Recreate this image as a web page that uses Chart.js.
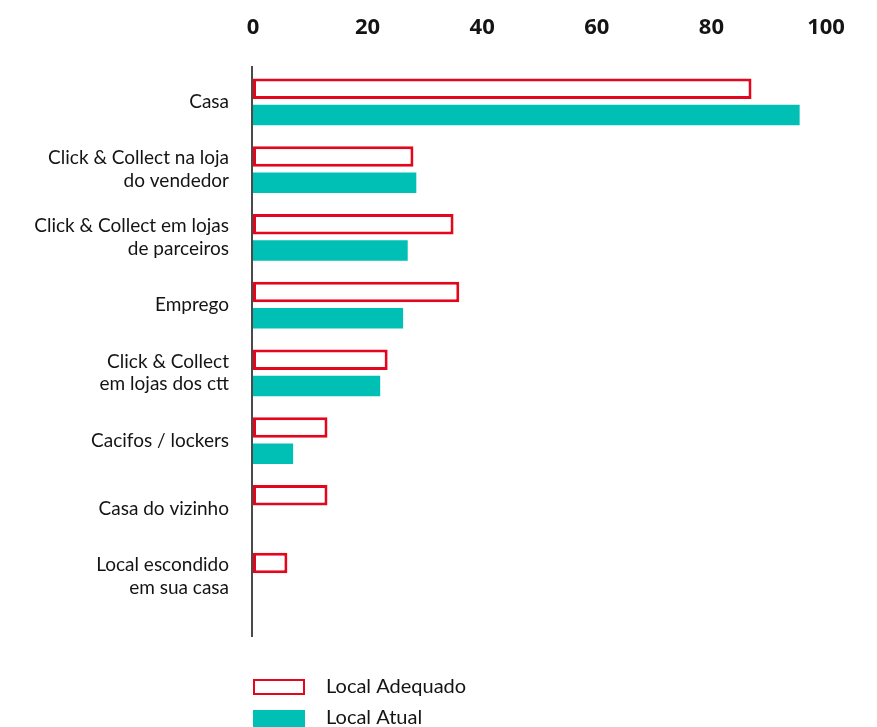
<!DOCTYPE html>
<html>
<head>
<meta charset="utf-8">
<title>Local de entrega</title>
<script src="https://cdn.jsdelivr.net/npm/chart.js@4/dist/chart.umd.min.js"></script>
<style>
  html, body { margin: 0; padding: 0; background: #ffffff; }
  #wrap { width: 877px; height: 727px; }
</style>
</head>
<body>
<div id="wrap"><canvas id="chart" width="877" height="727"></canvas></div>
<script>
// Delivery locations (multi-line labels)
const categories = [
  ['Casa'],
  ['Click & Collect na loja', 'do vendedor'],
  ['Click & Collect em lojas', 'de parceiros'],
  ['Emprego'],
  ['Click & Collect', 'em lojas dos ctt'],
  ['Cacifos / lockers'],
  ['Casa do vizinho'],
  ['Local escondido', 'em sua casa']
];
// Percentages per location
const localAdequado = [87, 28, 35, 36, 23.5, 13, 13, 6];
const localAtual = [95.4, 28.5, 27, 26.2, 22.2, 7, 0, 0];
const xTicks = [0, 20, 40, 60, 80, 100];

const RED = '#e3061d';
const TEAL = '#00bfb5';
const TEXT = '#141414';
const LEFT = 253;
const TOP = 68;

// Vertical axis line, drawn a bit past the category band
const axisLine = {
  id: 'axisLine',
  beforeDatasetsDraw(chart) {
    const ctx = chart.ctx;
    const a = chart.chartArea;
    ctx.save();
    ctx.strokeStyle = '#4a4a4a';
    ctx.lineWidth = 2;
    ctx.beginPath();
    ctx.moveTo(a.left - 1, a.top - 2);
    ctx.lineTo(a.left - 1, a.bottom + 27);
    ctx.stroke();
    ctx.restore();
  }
};

// Stacked legend below the plot, one entry per row
const stackedLegend = {
  id: 'stackedLegend',
  afterDraw(chart) {
    const ctx = chart.ctx;
    const a = chart.chartArea;
    ctx.save();
    ctx.font = '20px Lato, "Open Sans", sans-serif';
    ctx.textBaseline = 'middle';
    ctx.textAlign = 'left';
    chart.data.datasets.forEach((ds, i) => {
      const cy = 687 + i * 31;
      const x = a.left;
      if (ds.borderWidth) {
        ctx.fillStyle = '#ffffff';
        ctx.fillRect(x, cy - 8, 52, 16);
        ctx.strokeStyle = ds.borderColor;
        ctx.lineWidth = 2;
        ctx.strokeRect(x + 1, cy - 7, 50, 14);
      } else {
        ctx.fillStyle = ds.backgroundColor;
        ctx.fillRect(x, cy - 8, 52, 18);
      }
      ctx.fillStyle = TEXT;
      ctx.fillText(ds.label, x + 73, cy);
    });
    ctx.restore();
  }
};

new Chart(document.getElementById('chart'), {
  type: 'bar',
  data: {
    labels: categories,
    datasets: [
      {
        label: 'Local Adequado',
        data: localAdequado,
        backgroundColor: '#ffffff',
        borderColor: RED,
        borderWidth: 3,
        borderSkipped: false
      },
      {
        label: 'Local Atual',
        data: localAtual,
        backgroundColor: TEAL,
        borderWidth: 0
      }
    ]
  },
  options: {
    indexAxis: 'y',
    responsive: false,
    animation: false,
    events: [],
    categoryPercentage: 0.775,
    barPercentage: 0.79,
    layout: { padding: { top: 0, right: 51, bottom: 117, left: 0 } },
    plugins: {
      legend: { display: false },
      tooltip: { enabled: false }
    },
    scales: {
      x: {
        position: 'top',
        min: 0,
        max: 100,
        afterBuildTicks(scale) {
          scale.ticks = xTicks.map(v => ({ value: v }));
        },
        afterFit(scale) { scale.height = TOP; },
        grid: { display: false, drawTicks: false },
        border: { display: false },
        ticks: {
          padding: 27,
          color: TEXT,
          font: { family: '"Open Sans", sans-serif', size: 22, weight: 'bold' }
        }
      },
      y: {
        afterFit(scale) { scale.width = LEFT; },
        grid: { display: false, drawTicks: false },
        border: { display: false },
        ticks: {
          padding: 24,
          color: TEXT,
          font: { family: 'Lato, "Open Sans", sans-serif', size: 19, lineHeight: 1.2 }
        }
      }
    }
  },
  plugins: [axisLine, stackedLegend]
});
</script>
</body>
</html>
